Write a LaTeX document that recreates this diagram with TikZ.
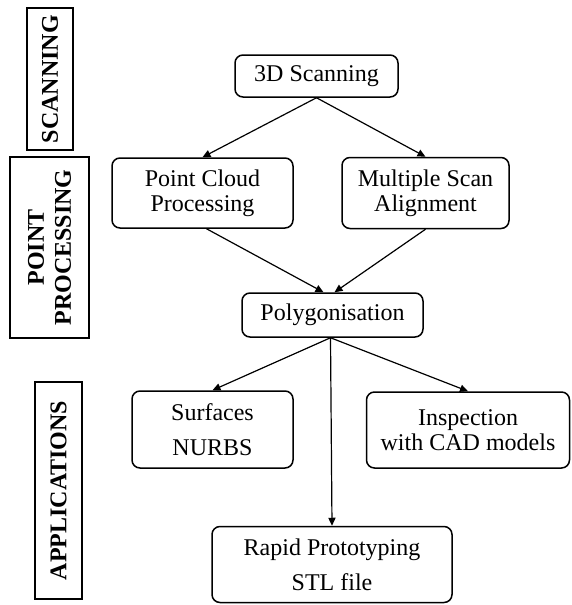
\documentclass[tikz,border=0pt]{standalone}
\usepackage{fontspec}
\setmainfont{Liberation Serif}
\usetikzlibrary{arrows.meta,calc}
\begin{document}
\begin{tikzpicture}[x=0.5pt,y=-0.5pt,
  box/.style={draw,line width=0.75pt,rounded corners=4pt,align=center,inner sep=0pt,
    font=\fontsize{12}{12.5}\selectfont},
  lab/.style={draw,line width=0.75pt,rotate=90,align=center,inner sep=0pt,
    font=\bfseries\fontsize{12}{13.5}\selectfont},
  conn/.style={line width=0.6pt,-{Triangle[length=4pt,width=3.6pt]}}]
\useasboundingbox (0,0) rectangle (572,605);
% side labels
\node[lab,minimum width=71pt,minimum height=23pt] (lscan) at (50,79) {SCANNING};
\node[lab,minimum width=90.5pt,minimum height=39.5pt] (lpp) at (49.5,247.5) {POINT\\PROCESSING};
\node[lab,minimum width=108.5pt,minimum height=23.5pt] (lapp) at (58.5,490.5) {APPLICATIONS};
% main boxes
\node[box,minimum width=81.5pt,minimum height=21pt] (scan) at (316.5,76) {3D Scanning};
\node[box,minimum width=90.5pt,minimum height=35pt] (pc) at (202.5,193) {Point Cloud\\Processing};
\node[box,minimum width=83.5pt,minimum height=35.5pt] (msa) at (425.5,193) {Multiple Scan\\Alignment};
\node[box,minimum width=90.5pt,minimum height=22pt] (poly) at (332.5,315) {Polygonisation};
\node[box,minimum width=80.5pt,minimum height=38.5pt] (surf) at (212.5,429.5) {Surfaces\\[5pt]NURBS};
\node[box,minimum width=101.5pt,minimum height=38pt] (insp) at (468,430) {Inspection\\with CAD models};
\node[box,minimum width=120pt,minimum height=38pt] (rapid) at (332,564.5) {Rapid Prototyping\\[5pt]STL file};
% connectors
\draw[conn] (scan.south) -- (pc.north);
\draw[conn] (scan.south) -- (msa.north);
\draw[conn] ($(pc.south)+(4,0)$) -- ($(poly.north)+(-9,0)$);
\draw[conn] (msa.south) -- ($(poly.north)+(2,0)$);
\draw[conn] ($(poly.south)+(-2,0)$) -- (surf.north);
\draw[conn] ($(poly.south)+(-2,0)$) -- (insp.north);
\draw[conn] ($(poly.south)+(-2,0)$) -- (rapid.north);
\end{tikzpicture}
\end{document}
